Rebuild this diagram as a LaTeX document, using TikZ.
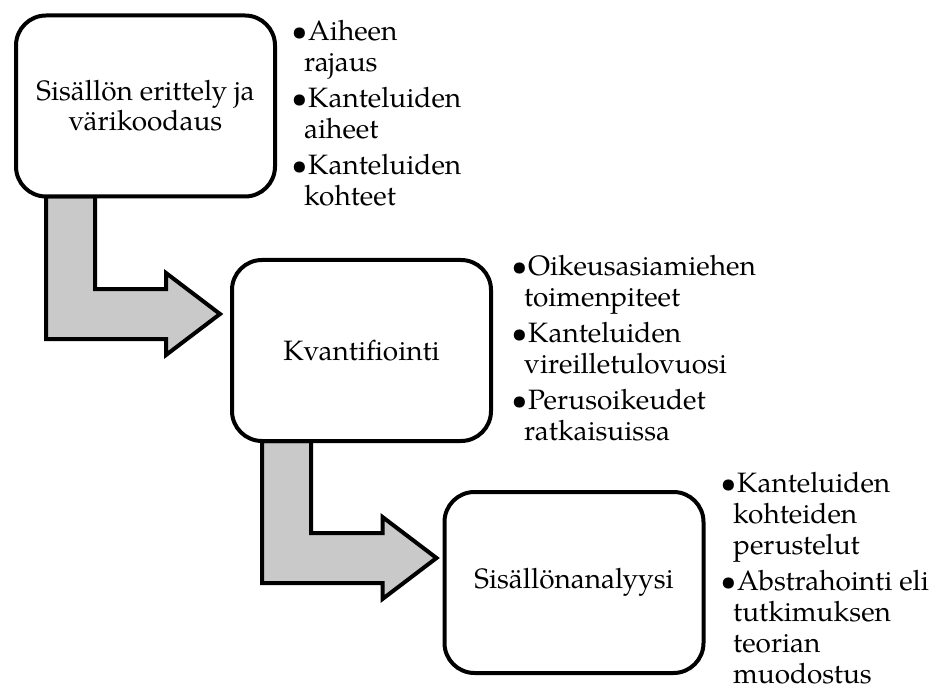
\documentclass[tikz,border=0pt]{standalone}
\usepackage{fontspec}
\setmainfont{TeX Gyre Pagella}
\usepackage{tikz}
\usetikzlibrary{calc}
\pgfdeclarelayer{background}
\pgfsetlayers{background,main}

\tikzset{
  stage/.style={draw, line width=4pt, rounded corners=30pt, fill=white,
    minimum width=259pt, minimum height=181pt, outer sep=0pt, inner sep=0pt,
    align=center, font=\fontsize{28}{30}\selectfont},
  bentshape/.style={draw, line width=4pt, fill=black!21, line join=miter},
  points/.style={anchor=north west, align=left, inner sep=0pt,
    font=\fontsize{28}{31}\selectfont},
}
\newcommand{\itembul}{\hspace*{4pt}\llap{\textbullet\hspace{1pt}}}
% bent arrow from under one box to the left side of the next
\newcommand{\bentarrow}[4]{%
  \begin{pgfonlayer}{background}
  \draw[bentshape] let \p1=($(#1.south west)+(30,0)$), \p2=($(#2.north west)+(-#4,#3)$) in
    (\x1,\y1) |- (\x2-54pt,\y2-25pt) -- (\x2-54pt,\y2-41pt) -- (\x2,\y2)
    -- (\x2-54pt,\y2+41pt) -- (\x2-54pt,\y2+25pt) -| (\x1+49pt,\y1) -- cycle;
  \end{pgfonlayer}}

\begin{document}
\begin{tikzpicture}[x=1pt,y=-1pt]
	\useasboundingbox (0,0) rectangle (932,687);
	\node[stage] (erittely) at (145.5,106) {Sisällön erittely ja\\värikoodaus};
	\node[stage] (kvant) at (361.5,350.5) {Kvantifiointi};
	\node[stage] (analyysi) at (574,582.5) {Sisällönanalyysi};
	
	\node[points] (lista1) at (304,20) {\itembul Aiheen\\rajaus\\[5pt]
		\itembul Kanteluiden\\aiheet\\[5pt]
		\itembul Kanteluiden\\kohteet};
	\node[points] (lista2) at (524,255) {\itembul Oikeusasiamiehen\\toimenpiteet\\[5pt]
		\itembul Kanteluiden\\vireilletulovuosi\\[5pt]
		\itembul Perusoikeudet\\ratkaisuissa};
	\node[points] (lista3) at (733,472) {\itembul Kanteluiden\\kohteiden\\perustelut\\[5pt]
		\itembul Abstrahointi eli\\tutkimuksen\\teorian\\muodostus};
	
	\bentarrow{erittely}{kvant}{54}{12}
	\bentarrow{kvant}{analyysi}{66}{8}
\end{tikzpicture}
\end{document}
